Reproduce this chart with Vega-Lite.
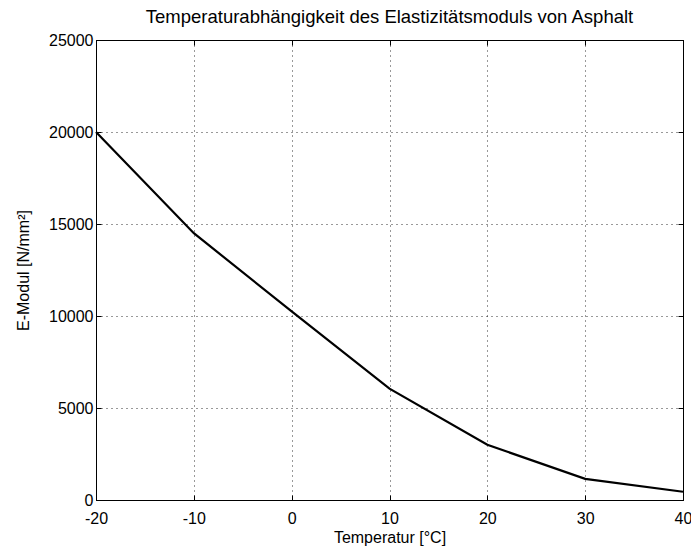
{
  "$schema": "https://vega.github.io/schema/vega-lite/v6.json",
  "autosize": {"type": "none"},
  "padding": {"left": 96, "top": 40, "right": 8, "bottom": 51},
  "width": 587,
  "height": 460,
  "background": "white",
  "title": {"text": "Temperaturabhängigkeit des Elastizitätsmoduls von Asphalt", "font": "Liberation Sans", "fontSize": 18.5, "fontWeight": "normal", "color": "black", "offset": 6, "anchor": "middle"},
  "config": {
    "view": {"stroke": "black", "strokeWidth": 1},
    "axis": {"labelFont": "Liberation Sans", "titleFont": "Liberation Sans", "labelFontSize": 16, "titleFontSize": 16, "titleFontWeight": "normal", "labelColor": "black", "titleColor": "black", "domainColor": "black", "tickColor": "black", "gridColor": "black", "gridDash": [1, 4], "gridOpacity": 0.8, "tickSize": -5, "domain": true}
  },
  "data": {"values": [
    {"t": -20, "e": 20000},
    {"t": -10, "e": 14500},
    {"t": 0, "e": 10250},
    {"t": 10, "e": 6050},
    {"t": 20, "e": 3000},
    {"t": 30, "e": 1150},
    {"t": 40, "e": 450}
  ]},
  "layer": [
    {
      "mark": {"type": "line", "color": "black", "strokeWidth": 2.2},
      "encoding": {
        "x": {"field": "t", "type": "quantitative", "scale": {"domain": [-20, 40], "nice": false, "zero": false}, "axis": {"values": [-20, -10, 0, 10, 20, 30, 40], "labelExpr": "'' + datum.value", "title": "Temperatur [°C]", "labelPadding": 15, "titlePadding": 3, "labelFlush": false, "labelOverlap": false}},
        "y": {"field": "e", "type": "quantitative", "scale": {"domain": [0, 25000], "nice": false}, "axis": {"values": [0, 5000, 10000, 15000, 20000, 25000], "labelExpr": "'' + datum.value", "title": "E-Modul [N/mm²]", "labelPadding": 8, "titlePadding": 17, "labelFlush": false, "labelOverlap": false}}
      }
    },
    {
      "mark": {"type": "line", "opacity": 0},
      "encoding": {
        "x": {"field": "t", "type": "quantitative", "axis": {"orient": "top", "values": [-20, -10, 0, 10, 20, 30, 40], "labels": false, "title": null, "grid": false}},
        "y": {"field": "e", "type": "quantitative", "axis": {"orient": "right", "values": [0, 5000, 10000, 15000, 20000, 25000], "labels": false, "title": null, "grid": false}}
      }
    }
  ],
  "resolve": {"axis": {"x": "independent", "y": "independent"}}
}
